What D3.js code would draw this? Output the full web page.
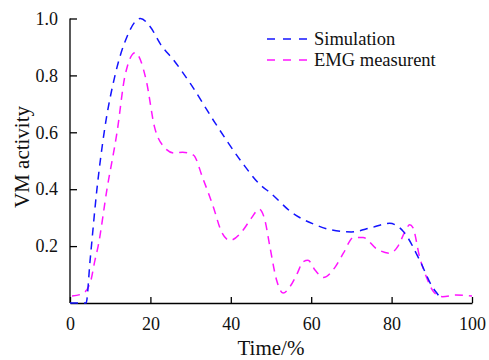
<!DOCTYPE html>
<html><head><meta charset="utf-8">
<script src="https://cdn.jsdelivr.net/npm/d3@7"></script>
<style>body{margin:0;background:#fff}svg{display:block} svg text{font-family:"Liberation Serif", "Times New Roman", serif;}</style>
</head><body>
<script>
const xTicks = [0, 20, 40, 60, 80, 100];
const yTicks = [0.2, 0.4, 0.6, 0.8, 1.0];
const simT = [0, 4, 5, 6.7, 8.5, 11.2, 14, 17.5, 20, 22.5, 26, 30, 36, 43, 47, 50, 55, 61, 65, 70, 75, 79.5, 83, 87, 90, 91.5, 92];
const simV = [0, 0, 0.15, 0.4, 0.6, 0.8, 0.93, 1.0, 0.97, 0.91, 0.85, 0.77, 0.635, 0.49, 0.42, 0.385, 0.32, 0.275, 0.257, 0.25, 0.265, 0.28, 0.25, 0.15, 0.06, 0.03, 0.02];
const emgT = [0.5, 3, 5, 6.2, 7, 9.2, 11.7, 13.7, 16.2, 19, 21, 23, 26, 28, 30.7, 33, 35.6, 37.7, 39.8, 42.7, 45.2, 47, 48.5, 49.7, 51.4, 53, 54.7, 56.4, 58, 59.2, 61, 63, 66, 68, 70.5, 72.9, 76.3, 79.6, 81.6, 83.3, 84.5, 85.3, 87, 88.7, 90.7, 92.7, 96, 100];
const emgV = [0.025, 0.032, 0.07, 0.15, 0.2, 0.4, 0.6, 0.8, 0.88, 0.78, 0.62, 0.555, 0.527, 0.53, 0.52, 0.44, 0.34, 0.25, 0.22, 0.25, 0.3, 0.33, 0.29, 0.2, 0.08, 0.035, 0.057, 0.1, 0.145, 0.15, 0.115, 0.09, 0.127, 0.175, 0.23, 0.23, 0.19, 0.175, 0.2, 0.25, 0.275, 0.265, 0.16, 0.09, 0.035, 0.022, 0.028, 0.025];
const seriesNames = ["Simulation", "EMG measurent"];
const colors = ["#1414ff", "#ff14ff"];

const W = 489, H = 360;
const FONT = "Liberation Serif";
const svg = d3.select("body").append("svg").attr("width", W).attr("height", H);
svg.append("rect").attr("width", W).attr("height", H).attr("fill", "#fff");

const x = d3.scaleLinear().domain([0, 100]).range([70, 472]);
const y = d3.scaleLinear().domain([0, 1]).range([303, 18.5]);

const gx = svg.append("g").attr("transform", `translate(0,${y(0)})`)
  .call(d3.axisBottom(x).tickValues(xTicks).tickSize(-6).tickSizeOuter(0).tickPadding(14).tickFormat(d3.format("d")));
const gy = svg.append("g").attr("transform", `translate(${x(0)},0)`)
  .call(d3.axisLeft(y).tickValues(yTicks).tickSize(-7).tickSizeOuter(0).tickPadding(12).tickFormat(d3.format(".1f")));
[gx, gy].forEach(g => {
  g.attr("font-family", FONT).attr("font-size", 18);
  g.select(".domain").attr("stroke", "#000").attr("stroke-width", 1.3);
  g.selectAll(".tick line").attr("stroke", "#000").attr("stroke-width", 1.3);
  g.selectAll(".tick text").attr("fill", "#111").style("font-size", "18px").style("font-family", FONT);
});
gy.select(".domain").attr("d", `M0,${y(0)}V${y(1)}`);

const line = d3.line().x(d => x(d[0])).y(d => y(d[1])).curve(d3.curveMonotoneX);
const sim = simT.map((t, i) => [t, simV[i]]);
const emg = emgT.map((t, i) => [t, emgV[i]]);
[emg, sim].forEach((data, k) => {
  const idx = k === 0 ? 1 : 0;
  svg.append("path").datum(data).attr("d", line).attr("fill", "none")
    .attr("stroke", colors[idx]).attr("stroke-width", 1.5).attr("stroke-dasharray", "8,6");
});

// legend
seriesNames.forEach((name, i) => {
  const ly = 39 + i * 21;
  svg.append("line").attr("x1", 267).attr("x2", 307).attr("y1", ly).attr("y2", ly)
    .attr("stroke", colors[i]).attr("stroke-width", 1.5).attr("stroke-dasharray", "8,8");
  svg.append("text").attr("x", 314).attr("y", ly + 6).text(name)
    .style("font-family", FONT).style("font-size", "18.5px").attr("fill", "#111");
});

svg.append("text").attr("x", 271).attr("y", 355).attr("text-anchor", "middle")
  .style("font-family", FONT).style("font-size", "21px").attr("fill", "#111").text("Time/%");
svg.append("text").attr("transform", "translate(29,157) rotate(-90)").attr("text-anchor", "middle")
  .style("font-family", FONT).style("font-size", "21px").attr("fill", "#111").text("VM activity");
</script>
</body></html>
